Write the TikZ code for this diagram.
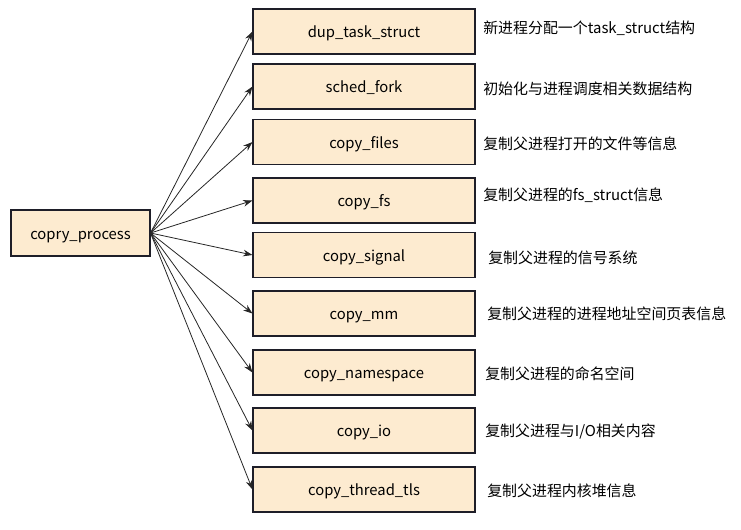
\documentclass[tikz,border=0pt]{standalone}
\usepackage{fontspec}
\setmainfont{Noto Sans CJK SC}
\usetikzlibrary{arrows.meta}
\definecolor{boxfill}{RGB}{253,235,208}
\definecolor{boxline}{RGB}{30,30,40}
\tikzset{
  fn/.style={draw=boxline, line width=0.8pt, fill=boxfill, minimum width=222*0.75pt, minimum height=45*0.75pt, inner sep=0pt, text height=11pt, text depth=1.5pt, font=\fontsize{11.1}{13}\selectfont},
  lbl/.style={anchor=west, inner sep=0pt, text height=9.4pt, text depth=0pt, font=\fontsize{11.2}{13}\selectfont},
  link/.style={draw=black!85, line width=0.6pt, -{Stealth[length=7pt,width=5pt]}}
}
\begin{document}
\begin{tikzpicture}[x=0.75pt,y=-0.75pt]
\useasboundingbox (0,0) rectangle (741,529);
\node[fn, minimum width=139*0.75pt, minimum height=46*0.75pt] (cp) at (80.5,233) {copry\_process};
\node[fn] (a) at (364,31.5) {dup\_task\_struct};
\node[fn] (b) at (364,86.5) {sched\_fork};
\node[fn] (c) at (364,142) {copy\_files};
\node[fn] (d) at (364,200.5) {copy\_fs};
\node[fn] (e) at (364,255) {copy\_signal};
\node[fn] (f) at (364,313.5) {copy\_mm};
\node[fn] (g) at (364,372.5) {copy\_namespace};
\node[fn] (h) at (364,430.5) {copy\_io};
\node[fn] (i) at (364,489.5) {copy\_thread\_tls};
\foreach \n in {a,b,c,d,e,f,g,h,i} \draw[link] (cp.east) -- (\n.west);
\node[lbl] (la) at (483,27) {新进程分配一个task\_struct结构};
\node[lbl] (lb) at (483,88) {初始化与进程调度相关数据结构};
\node[lbl] (lc) at (483,143) {复制父进程打开的文件等信息};
\node[lbl] (ld) at (483,194) {复制父进程的fs\_struct信息};
\node[lbl] (le) at (488,257) {复制父进程的信号系统};
\node[lbl] (lf) at (487,313) {复制父进程的进程地址空间页表信息};
\node[lbl] (lg) at (485,373) {复制父进程的命名空间};
\node[lbl] (lh) at (485,430) {复制父进程与I/O相关内容};
\node[lbl] (li) at (487,490) {复制父进程内核堆信息};
\end{tikzpicture}
\end{document}
